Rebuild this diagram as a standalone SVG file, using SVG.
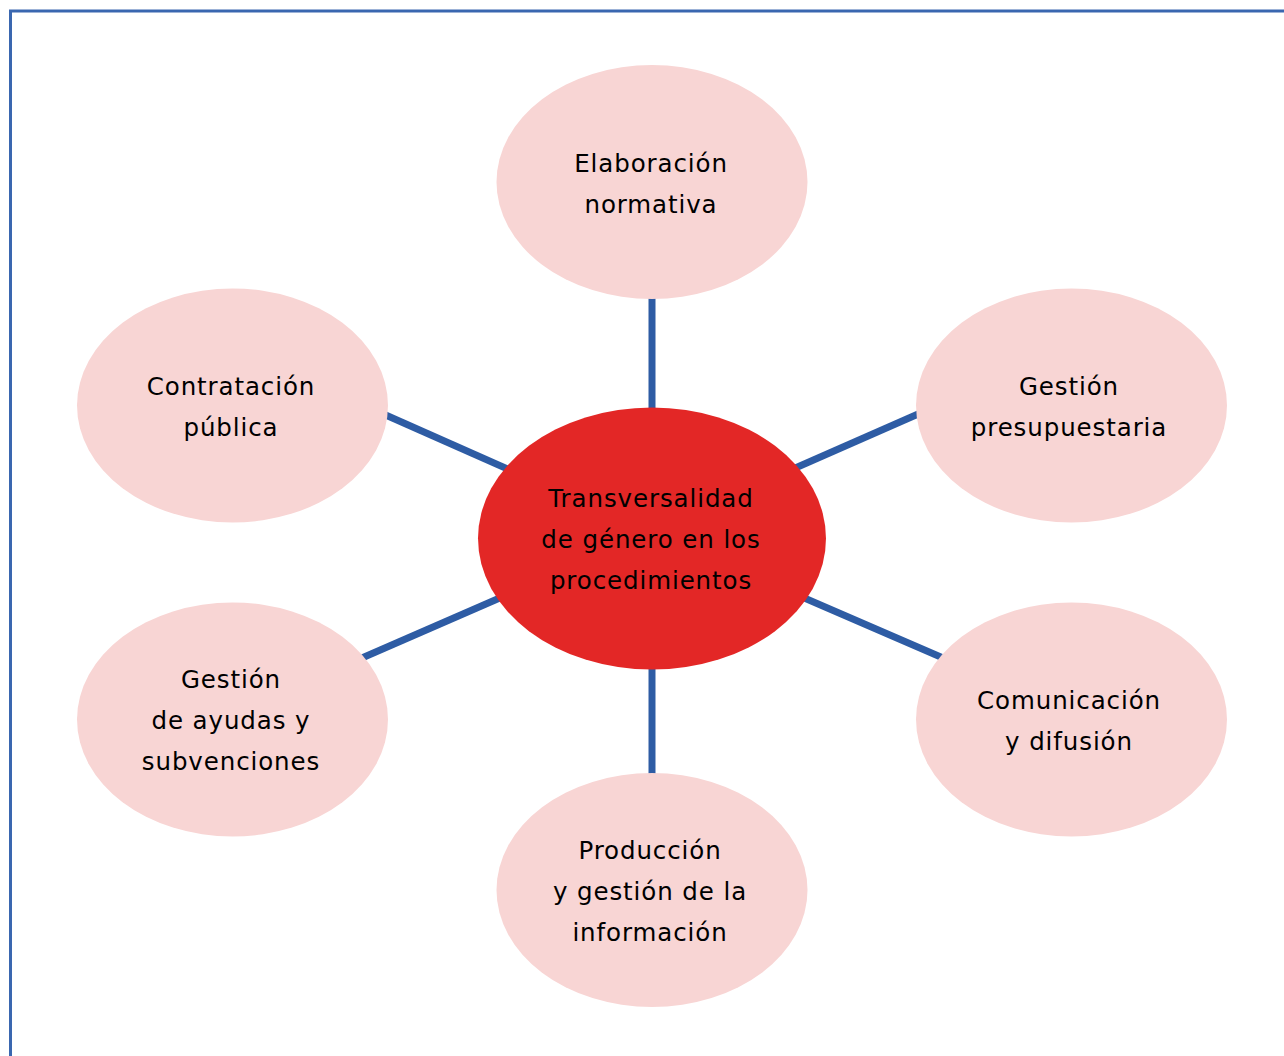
<svg xmlns="http://www.w3.org/2000/svg" width="1284" height="1056" viewBox="0 0 1284 1056">
  <style>
    .frame { fill: none; stroke: #3a67b0; stroke-width: 3; }
    .link { stroke: #2e5ca4; stroke-width: 7; fill: none; }
    .leaf { fill: #f8d5d4; }
    .hub { fill: #e32726; }
    text { font-family: "DejaVu Sans", Verdana, sans-serif; font-size: 24.5px; fill: #000; text-anchor: middle; letter-spacing: 0.9px; }
  </style>
  <rect width="1284" height="1056" fill="#ffffff"/>
  <rect class="frame" x="10.5" y="11" width="1300" height="1100"/>

  <g id="connectors">
    <line class="link" x1="652" y1="290" x2="652" y2="420"/>
    <line class="link" x1="652" y1="660" x2="652" y2="785"/>
    <line class="link" x1="380" y1="412.5" x2="510" y2="470"/>
    <line class="link" x1="793" y1="469" x2="925" y2="411"/>
    <line class="link" x1="355" y1="661" x2="502" y2="597"/>
    <line class="link" x1="802" y1="597" x2="950" y2="661"/>
  </g>

  <g id="node-elaboracion">
    <ellipse class="leaf" cx="652" cy="182" rx="155.5" ry="117"/>
    <text x="651" y="172">Elaboración</text>
    <text x="651" y="213">normativa</text>
  </g>

  <g id="node-contratacion">
    <ellipse class="leaf" cx="232.5" cy="405.5" rx="155.5" ry="117"/>
    <text x="231" y="395">Contratación</text>
    <text x="231" y="436">pública</text>
  </g>

  <g id="node-presupuestaria">
    <ellipse class="leaf" cx="1071.5" cy="405.5" rx="155.5" ry="117"/>
    <text x="1069" y="395">Gestión</text>
    <text x="1069" y="436">presupuestaria</text>
  </g>

  <g id="node-ayudas">
    <ellipse class="leaf" cx="232.5" cy="719.5" rx="155.5" ry="117"/>
    <text x="231" y="688">Gestión</text>
    <text x="231" y="729">de ayudas y</text>
    <text x="231" y="770">subvenciones</text>
  </g>

  <g id="node-comunicacion">
    <ellipse class="leaf" cx="1071.5" cy="719.5" rx="155.5" ry="117"/>
    <text x="1069" y="709">Comunicación</text>
    <text x="1069" y="750">y difusión</text>
  </g>

  <g id="node-informacion">
    <ellipse class="leaf" cx="652" cy="890" rx="155.5" ry="117"/>
    <text x="650" y="859">Producción</text>
    <text x="650" y="900">y gestión de la</text>
    <text x="650" y="941">información</text>
  </g>

  <g id="node-transversalidad">
    <ellipse class="hub" cx="652" cy="538.5" rx="174" ry="131"/>
    <text x="651" y="507">Transversalidad</text>
    <text x="651" y="548">de género en los</text>
    <text x="651" y="589">procedimientos</text>
  </g>
</svg>
